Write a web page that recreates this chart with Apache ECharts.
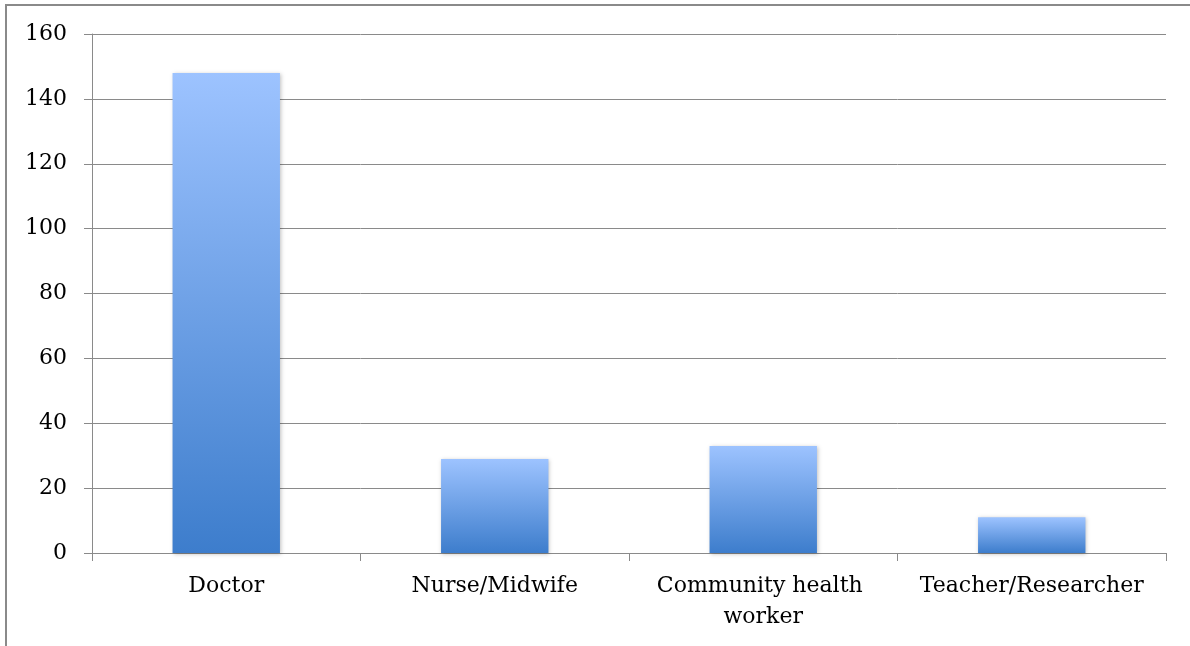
<!DOCTYPE html>
<html>
<head>
<meta charset="utf-8">
<script src="https://cdn.jsdelivr.net/npm/echarts@6/dist/echarts.min.js"></script>
<style>
html,body{margin:0;padding:0;background:#fff;}
#frame{position:absolute;left:5px;top:4px;width:1185px;height:642px;border-left:2px solid #8a8a8a;border-top:2px solid #8a8a8a;box-sizing:border-box;}
#chart{position:absolute;left:0;top:0;width:1190px;height:646px;}
</style>
</head>
<body>
<div id="frame"></div>
<div id="chart"></div>
<script>
const categories = ['Doctor', 'Nurse/Midwife', 'Community health worker', 'Teacher/Researcher'];
const values = [148, 29, 33, 11];
const yTicks = { min: 0, max: 160, interval: 20 };

const chart = echarts.init(document.getElementById('chart'), null, { renderer: 'canvas' });
const fontFamily = '"DejaVu Serif", "Liberation Serif", serif';
chart.setOption({
  animation: false,
  backgroundColor: 'transparent',
  grid: { left: 92, right: 24, top: 34, bottom: 93, containLabel: false },
  xAxis: {
    type: 'category',
    data: categories,
    axisLine: { lineStyle: { color: '#8a8a8a', width: 1 } },
    axisTick: { show: true, length: 8, alignWithLabel: false, lineStyle: { color: '#8a8a8a' } },
    axisLabel: {
      color: '#000', fontFamily: fontFamily, fontSize: 22, margin: 18, lineHeight: 31,
      interval: 0, width: 250, overflow: 'break'
    }
  },
  yAxis: {
    type: 'value',
    min: yTicks.min, max: yTicks.max, interval: yTicks.interval,
    axisLine: { show: true, lineStyle: { color: '#8a8a8a', width: 1 } },
    axisTick: { show: true, length: 8, lineStyle: { color: '#8a8a8a' } },
    splitLine: { show: true, lineStyle: { color: '#8a8a8a', width: 1 } },
    axisLabel: { color: '#000', fontFamily: fontFamily, fontSize: 22, margin: 25 }
  },
  series: [{
    type: 'bar',
    data: values,
    barWidth: '40%',
    itemStyle: {
      color: new echarts.graphic.LinearGradient(0, 0, 0, 1, [
        { offset: 0, color: '#9dc3ff' },
        { offset: 1, color: '#3d7dcc' }
      ]),
      shadowColor: 'rgba(0,0,0,0.25)',
      shadowBlur: 4,
      shadowOffsetX: 1,
      shadowOffsetY: 1
    }
  }]
});
</script>
</body>
</html>
